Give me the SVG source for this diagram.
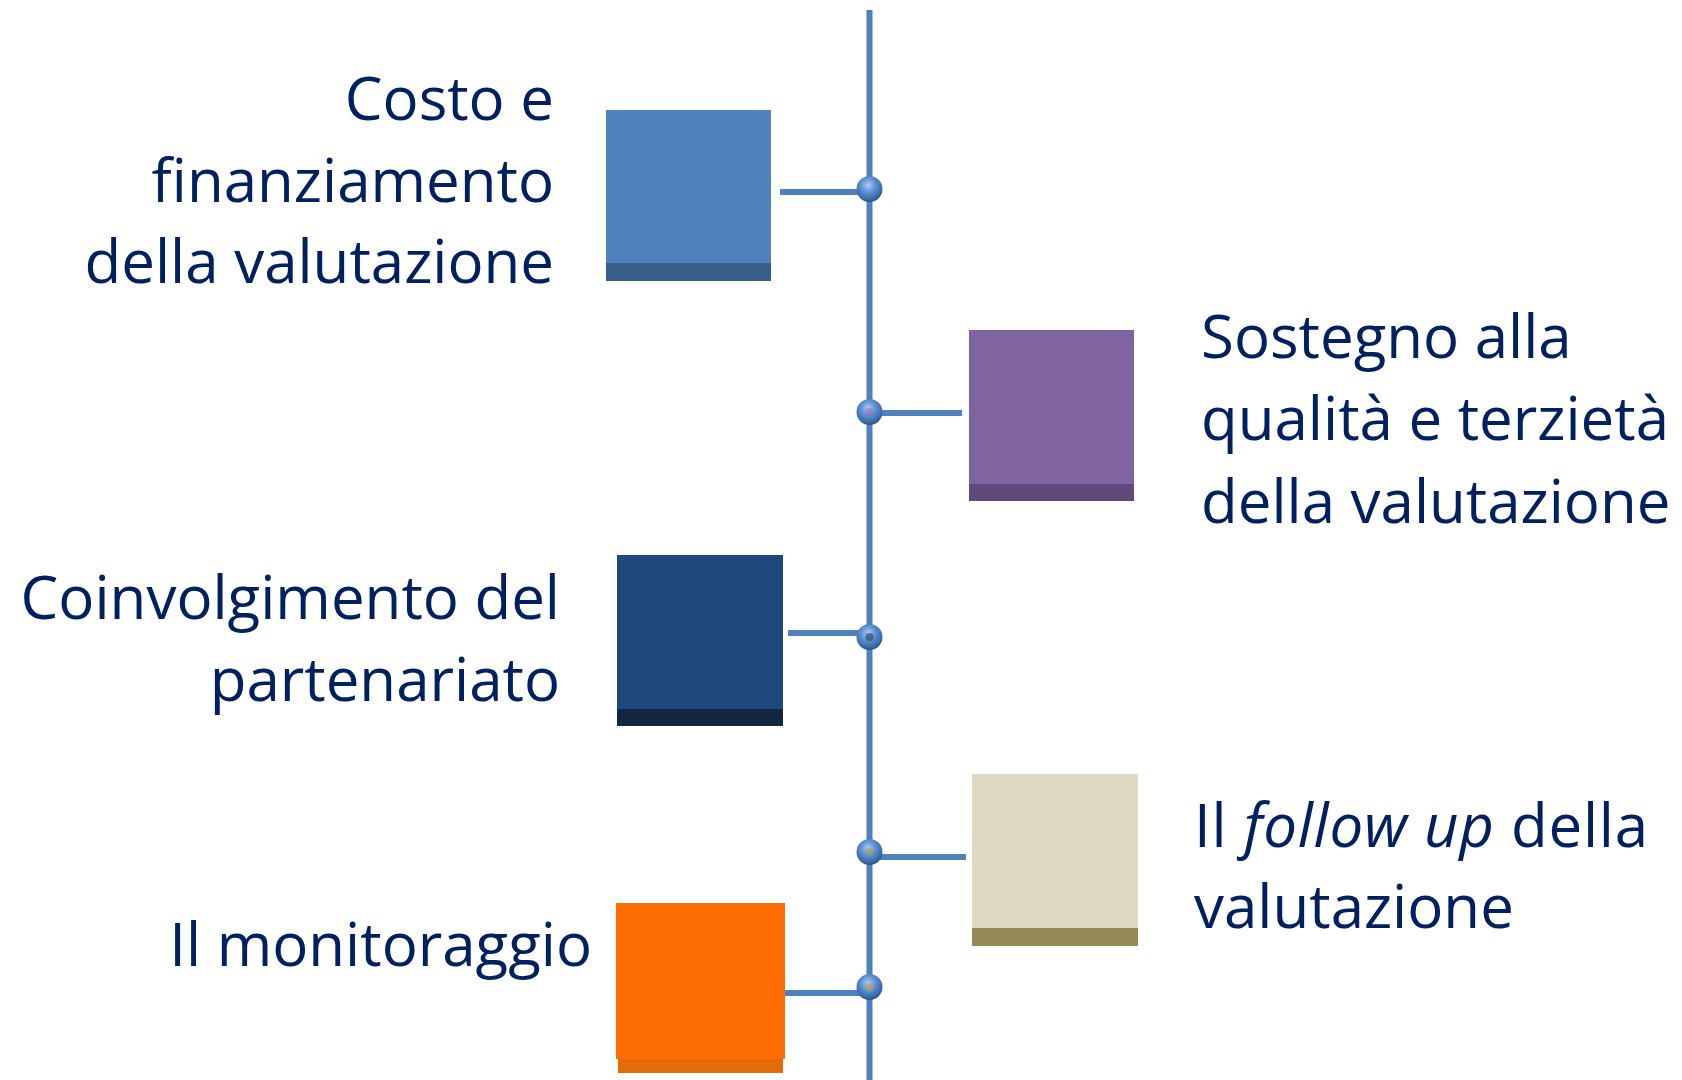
<svg xmlns="http://www.w3.org/2000/svg" width="1682" height="1080" viewBox="0 0 1682 1080">
<style>
  .lbl { font-family: "Open Sans", "Liberation Sans", sans-serif; font-size: 60px; fill: #002060; }
  .end { text-anchor: end; }
  .conn { stroke: #4F81BD; stroke-width: 6; fill: none; }
  .knob { fill: url(#sphere); }
</style>
<defs>
  <radialGradient id="sphere" cx="0.45" cy="0.35" r="0.65">
    <stop offset="0" stop-color="#A9CBF2"/>
    <stop offset="0.45" stop-color="#5B8FD0"/>
    <stop offset="0.85" stop-color="#3A68A8"/>
    <stop offset="1" stop-color="#2A4F85"/>
  </radialGradient>
</defs>
<rect width="1682" height="1080" fill="#FFFFFF"/>

<g id="connectors">
  <line class="conn" x1="869.5" y1="10" x2="869.5" y2="1080"/>
  <line class="conn" x1="780" y1="192" x2="869" y2="192"/>
  <line class="conn" x1="869" y1="413" x2="962" y2="413"/>
  <line class="conn" x1="788" y1="633" x2="869" y2="633"/>
  <line class="conn" x1="869" y1="857" x2="966" y2="857"/>
  <line class="conn" x1="785" y1="993" x2="869" y2="993"/>
  <circle class="knob" cx="869.5" cy="189" r="13"/>
  <circle class="knob" cx="869.5" cy="412" r="13"/>
  <circle cx="869.5" cy="412" r="4" fill="#B060B0" opacity="0.5"/>
  <circle class="knob" cx="869.5" cy="637" r="13"/>
  <circle cx="869.5" cy="637" r="4" fill="#1F3A66" opacity="0.6"/>
  <circle class="knob" cx="869.5" cy="852" r="13"/>
  <circle cx="869.5" cy="852" r="4" fill="#A89A50" opacity="0.6"/>
  <circle class="knob" cx="869.5" cy="987" r="13"/>
  <circle cx="869.5" cy="987" r="4" fill="#C8A040" opacity="0.6"/>
</g>

<g id="node-costo">
  <rect x="606" y="110" width="165" height="171" fill="#4F81BD"/>
  <rect x="606" y="263" width="165" height="18" fill="#385D8A"/>
  <text class="lbl end" x="554" y="120">Costo e</text>
  <text class="lbl end" x="554" y="202">finanziamento</text>
  <text class="lbl end" x="554" y="283">della valutazione</text>
</g>

<g id="node-sostegno">
  <rect x="969" y="330" width="165" height="171" fill="#8064A2"/>
  <rect x="969" y="484" width="165" height="17" fill="#604A7B"/>
  <text class="lbl" x="1201" y="358">Sostegno alla</text>
  <text class="lbl" x="1201" y="440">qualità e terzietà</text>
  <text class="lbl" x="1201" y="523">della valutazione</text>
</g>

<g id="node-coinvolgimento">
  <rect x="617" y="555" width="166" height="171" fill="#1F497D"/>
  <rect x="617" y="709" width="166" height="17" fill="#132640"/>
  <text class="lbl end" x="560" y="619">Coinvolgimento del</text>
  <text class="lbl end" x="560" y="701">partenariato</text>
</g>

<g id="node-followup">
  <rect x="972" y="774" width="166" height="172" fill="#DDD9C3"/>
  <rect x="972" y="928" width="166" height="18" fill="#948A54"/>
  <text class="lbl" x="1194" y="847" textLength="454" lengthAdjust="spacing">Il <tspan font-style="italic">follow up</tspan> della</text>
  <text class="lbl" x="1194" y="928">valutazione</text>
</g>

<g id="node-monitoraggio">
  <rect x="618" y="1056" width="165" height="17" fill="#E36C09"/>
  <rect x="616" y="903" width="169" height="156" fill="#FF6D05"/>
  <text class="lbl end" x="592" y="966">Il monitoraggio</text>
</g>
</svg>
